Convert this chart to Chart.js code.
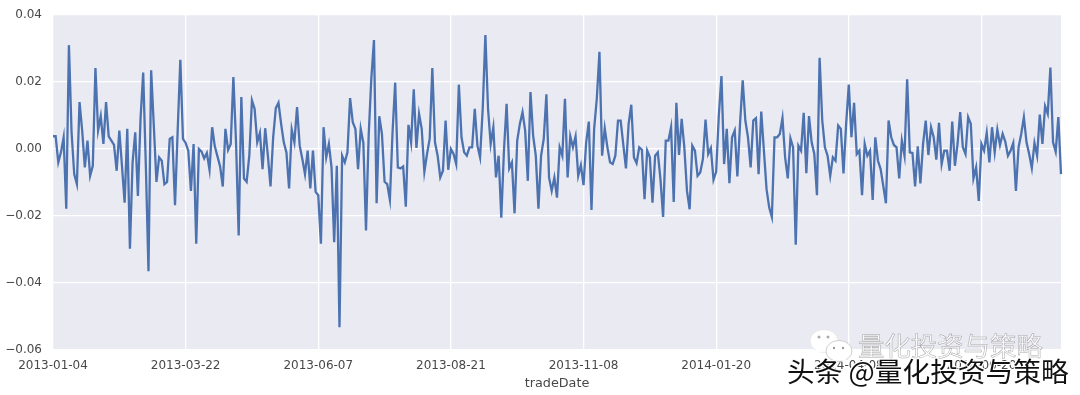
<!DOCTYPE html>
<html><head><meta charset="utf-8">
<style>
html,body{margin:0;padding:0;background:#fff;width:1080px;height:395px;overflow:hidden}
#wrap{position:relative;width:1080px;height:395px}
canvas{position:absolute;left:0;top:0;filter:blur(0.6px)}
.wm1{position:absolute;left:858px;top:329px;font:26.4px "Noto Sans CJK SC";line-height:32px;color:rgba(255,255,255,.8);-webkit-text-stroke:.5px rgba(90,90,90,.55)}
.wm2{position:absolute;left:787px;top:352px;font:27.7px "Noto Sans CJK SC";line-height:36px;color:#111;text-shadow:1px 1px 0 #fff,-1px -1px 0 #fff,1px -1px 0 #fff,-1px 1px 0 #fff}
svg{position:absolute;left:808px;top:327px}
</style></head><body>
<div id="wrap"><canvas id="c" width="1080" height="395"></canvas>
<svg width="50" height="50" viewBox="0 0 50 50"><ellipse cx="16" cy="14" rx="14" ry="11.5" fill="#fff" stroke="#ddd" stroke-width=".6"/><path d="M8 22l-2 6 8-4z" fill="#fff"/><ellipse cx="31" cy="24" rx="13" ry="10.5" fill="#fff" stroke="#bbb" stroke-width=".7"/><path d="M38 32l3 5-8-3z" fill="#fff"/><circle cx="11" cy="10" r="1.5" fill="#aaa"/><circle cx="20" cy="10" r="1.5" fill="#aaa"/><circle cx="26" cy="21" r="1.2" fill="#999"/><circle cx="35" cy="21" r="1.2" fill="#999"/></svg>
<div class="wm1">量化投资与策略</div>
<div class="wm2">头条 @量化投资与策略</div></div>
<script src="https://cdn.jsdelivr.net/npm/chart.js@4/dist/chart.umd.min.js"></script>
<script>
const tickDates=["2013-01-04","2013-03-22","2013-06-07","2013-08-21","2013-11-08","2014-01-20","2014-04-08","2014-06-20"];
const yTicks=[0.04,0.02,0,-0.02,-0.04,-0.06];
const xTitle="tradeDate";
const returnsA=[.0038,.0038,-.004,-.001,.0035,-.0178,.031,.005,-.0075,-.0105,.014,.0055,-.0055,.0025,-.008,-.005,.0242,.0055,.0098,.0015,.014,.0038,.0025,.0012,-.0065,.0055,-.005,-.016,.006,-.0298,-.004,.005,-.014,.009,.0228,-.005,-.0365,.0235,.007,-.0098,-.0025,-.0035,-.0105,-.0098,.003,.0035,-.0168,.0055,.0266,.003,.0018,-.0005,-.0125,.0015,-.0283,0,-.0008,-.0028,-.0012,-.0062,.0065,.0008,-.0022,-.0052,-.0112,.006,-.0003,.0015,.0215,.002,-.0258,.0155,-.0088,-.0098,-.002,.0145,.012,.002,.0048,-.006,.0062,-.002,-.0112,.0035,.0122,.0138,.0075,.002,-.001,-.0118,.0058,.002,.0125,.001,-.003,-.0075,-.0005,-.0118,-.0005,-.0128,-.0138,-.0283,.0065,-.0025,.0015,-.0055,-.0278,-.005,-.0532,-.002,-.004,-.001,.0152,.008,.006,-.006];
const returnsB=[.006,.0018,-.0243,.004,.021,.0325,-.0162,.0098,.0045,-.0098,-.0105,-.0152,.005,.0198,-.0055,-.0058,-.0052,-.0172,.0072,.002,.0178,.0003,.0105,.006,-.0068,-.0015,.003,.0242,.002,-.002,-.0085,-.0065,.0085,-.0062,0,-.0015,-.0045,.0192,.0035,-.001,-.002,.0005,.0005,.012,.001,-.0025,.012,.034,.012,.0015,.0065,-.0085,-.002,-.0205,-.0005,.0135,-.0058,-.004,-.0192,.0025,.0075,.011,.0055,-.0095,.017,.004,-.002,-.0178,-.002,.003,.0163,-.0085,-.0125,-.0085,-.0145,.0005,-.002,.015,-.0085,.0038,.0005,.0038,-.008,-.0048,-.0108,.002,.0082,-.0182,.006,.015,.029,-.002,.0062,.0005,-.004,-.0045,-.002,.0085,.0085,.0012,-.0058,.0075,.0132,-.0025,-.0042,.0005,-.0002,-.015,-.0005,-.0025,-.016,-.002,-.001,-.009,-.0203,.0025,.0025,.0065,-.0158,.0138,-.0018,.009,.0005,-.0125,-.018,.001,-.0005,-.008,-.007,-.003,.0088,-.0015,.0003,-.0092,-.0068,.01];
const returnsC=[.0218,-.0045,.006,-.0102,.0035,.0055,-.0082,.0075,.0205,.0085,.0035,-.0055,.0085,.0092,-.0075,.0112,-.0005,-.012,-.0175,-.0203,.0035,.0035,.0045,.0092,-.0025,-.0088,.0032,.0005,-.0286,.001,-.0005,.0108,-.0072,.0098,.002,-.0015,-.0138,.0272,.0085,.0005,-.002,-.008,-.0025,-.0035,.007,.006,-.0073,.0075,.0192,.0035,.0138,-.0015,-.0005,-.0138,.0015,-.002,-.0005,-.0152,.0035,-.0035,-.006,-.011,-.0162,.0085,.0035,.0012,.0005,-.0088,.0025,-.002,.0208,-.001,-.0012,-.0112,.0008,-.0103,.0015,.0085,-.0018,.0065,.0035,-.0032,.0078,-.0045,-.0005,-.0005,-.0065,.0082,-.005,.0015,.011,.0005,-.0015,.0095,.0075,-.0088,-.0055,-.0155,.0015,-.0005,.0048,-.004,.0065,-.001,.0058,.0012,.0045,.0022,-.002,-.0005,.0018,-.0125,.0005,.0045,.0095,.002,-.0015,-.0057,.0018,-.002,.0103,.0015,.0128,.0105,.0243,.002,-.0008,.0095,-.0075];
const series=returnsA.concat(returnsB,returnsC);
const ink="rgb(72,72,72)";
const bgPlugin={id:"bg",beforeDraw(ch){const a=ch.chartArea,g=ch.ctx;g.save();g.fillStyle="#EAEAF2";g.fillRect(a.left,a.top,a.width,a.height);g.restore();}};
new Chart(document.getElementById("c"),{
 type:"line",
 data:{datasets:[{data:series.map((v,i)=>({x:i,y:v})),borderColor:"#4C72B0",borderWidth:2.3,pointRadius:0,tension:0,fill:false,clip:false}]},
 plugins:[bgPlugin],
 options:{responsive:false,animation:false,
  layout:{padding:{top:15,right:19,left:0,bottom:0}},
  plugins:{legend:{display:false},tooltip:{enabled:false},title:{display:false}},
  scales:{
   x:{type:"linear",min:0,max:series.length-1,
    afterBuildTicks(s){s.ticks=tickDates.map((d,k)=>({value:k*50}));},
    afterFit(s){s.height=45;s.paddingLeft=0;s.paddingRight=0;},
    grid:{color:"#fff",lineWidth:1.3,drawTicks:false},border:{display:false},
    ticks:{autoSkip:false,maxRotation:0,minRotation:0,padding:9,color:ink,font:{family:"DejaVu Sans",size:12},callback:v=>tickDates[v/50]},
    title:{display:true,text:xTitle,color:ink,padding:{top:0,bottom:4},font:{family:"DejaVu Sans",size:12.8}}},
   y:{type:"linear",min:-0.06,max:0.04,
    afterBuildTicks(s){s.ticks=yTicks.map(v=>({value:v}));},
    afterFit(s){s.width=53;s.paddingTop=0;s.paddingBottom=0;},
    grid:{color:"#fff",lineWidth:1.3,drawTicks:false},border:{display:false},
    ticks:{padding:11,color:ink,font:{family:"DejaVu Sans",size:12},callback:v=>{const t=Math.abs(v).toFixed(2);return (v<-1e-9?"\u2212":"")+t;}}}
  }}
});
</script></body></html>
